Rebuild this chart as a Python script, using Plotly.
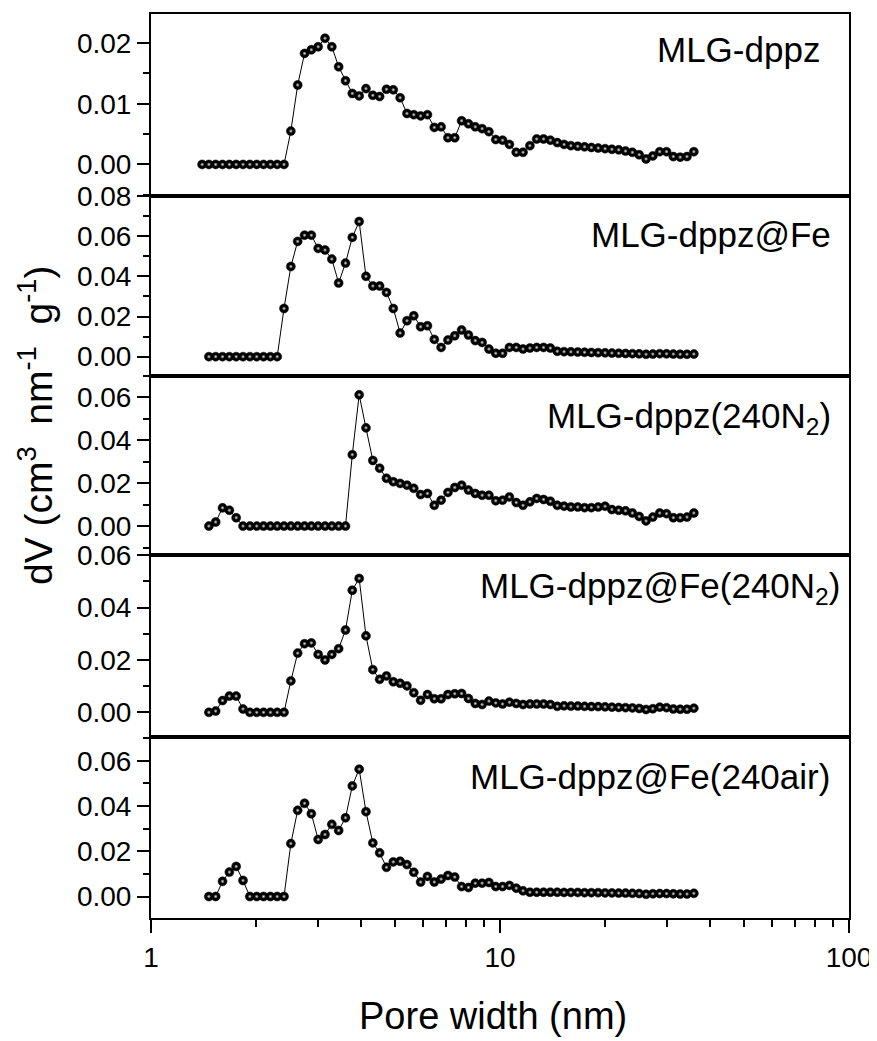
import plotly.graph_objects as go
from plotly.subplots import make_subplots

# Pore width grid (nm)
PORE_WIDTH = [1.401, 1.465, 1.532, 1.603, 1.677, 1.754, 1.835, 1.920, 2.009, 2.101,
              2.198, 2.299, 2.405, 2.516, 2.632, 2.754, 2.880, 3.013, 3.152, 3.297,
              3.449, 3.608, 3.774, 3.949, 4.130, 4.321, 4.520, 4.728, 4.946, 5.174,
              5.413, 5.662, 5.923, 6.196, 6.482, 6.781, 7.093, 7.420, 7.762, 8.120,
              8.494, 8.886, 9.295, 9.723, 10.17, 10.64, 11.13, 11.64, 12.18, 12.74,
              13.33, 13.94, 14.59, 15.26, 15.96, 16.70, 17.47, 18.27, 19.11, 20.00,
              20.92, 21.88, 22.89, 23.95, 25.05, 26.21, 27.41, 28.68, 30.00, 31.38,
              32.83, 34.34, 35.93]

MLG_DPPZ = [0.0, 0.0, 0.0, 0.0, 0.0, 0.0, 0.0, 0.0, 0.0, 0.0, 0.0, 0.0, 0.0,
            0.0055, 0.0131, 0.0183, 0.0189, 0.0194, 0.0208, 0.0194, 0.0161, 0.0138, 0.0117,
            0.0113, 0.0125, 0.0114, 0.0112, 0.0124, 0.0123, 0.0110, 0.0084, 0.0082, 0.0080,
            0.0082, 0.0061, 0.0062, 0.0044, 0.0044, 0.0072, 0.0067, 0.0062, 0.0059, 0.0054,
            0.0041, 0.0040, 0.0033, 0.0020, 0.0020, 0.0031, 0.0042, 0.0042, 0.0040, 0.0036,
            0.0033, 0.0031, 0.0030, 0.0029, 0.0028, 0.0027, 0.0026, 0.0025, 0.0024, 0.0022,
            0.0020, 0.0016, 0.0009, 0.0014, 0.0021, 0.0021, 0.0013, 0.0012, 0.0013, 0.0021]

MLG_DPPZ_FE = [0.0, 0.0, 0.0, 0.0, 0.0, 0.0, 0.0, 0.0, 0.0, 0.0, 0.0,
               0.0240, 0.0449, 0.0574, 0.0605, 0.0605, 0.0539, 0.0531, 0.0486, 0.0367, 0.0466,
               0.0594, 0.0673, 0.0400, 0.0352, 0.0352, 0.0320, 0.0240, 0.0118, 0.0179, 0.0204,
               0.0149, 0.0154, 0.0086, 0.0046, 0.0083, 0.0104, 0.0133, 0.0108, 0.0080, 0.0071,
               0.0038, 0.0017, 0.0017, 0.0046, 0.0046, 0.0038, 0.0043, 0.0046, 0.0046, 0.0043,
               0.0027,
               0.0025, 0.0024, 0.0023, 0.0022, 0.0021, 0.0020, 0.0019, 0.0018, 0.0017, 0.0016,
               0.0015, 0.0014, 0.0012, 0.0013, 0.0015, 0.0014, 0.0013, 0.0012, 0.0012, 0.0013]

MLG_DPPZ_240N2 = [0.0, 0.0019, 0.0085, 0.0074, 0.0039,
                  0.0, 0.0, 0.0, 0.0, 0.0, 0.0, 0.0, 0.0, 0.0, 0.0, 0.0, 0.0, 0.0, 0.0, 0.0, 0.0,
                  0.0333, 0.0612, 0.0458, 0.0306, 0.0270, 0.0223, 0.0207, 0.0199, 0.0191, 0.0176,
                  0.0147, 0.0152, 0.0097, 0.0121, 0.0157, 0.0180, 0.0191, 0.0168, 0.0152, 0.0144,
                  0.0144, 0.0118, 0.0121, 0.0136, 0.0110, 0.0097, 0.0113, 0.0129, 0.0124, 0.0116,
                  0.0097,
                  0.0093, 0.0089, 0.0089, 0.0086, 0.0086, 0.0089, 0.0093, 0.0077, 0.0074, 0.0071,
                  0.0061, 0.0045, 0.0024, 0.0042, 0.0061, 0.0058, 0.0039, 0.0039, 0.0042, 0.0061]

MLG_DPPZ_FE_240N2 = [0.0, 0.0005, 0.0045, 0.0062, 0.0062, 0.0013,
                     0.0, 0.0, 0.0, 0.0, 0.0, 0.0,
                     0.0120, 0.0226, 0.0262, 0.0265, 0.0221, 0.0200, 0.0221, 0.0243, 0.0314, 0.0466,
                     0.0511, 0.0292, 0.0163, 0.0126, 0.0139, 0.0117, 0.0111, 0.0101, 0.0075, 0.0046,
                     0.0068, 0.0052, 0.0052, 0.0068, 0.0071, 0.0072, 0.0053, 0.0034, 0.0030, 0.0043,
                     0.0036, 0.0032, 0.0039, 0.0034, 0.0030, 0.0032, 0.0032, 0.0032, 0.0030, 0.0023,
                     0.0025, 0.0024, 0.0024, 0.0023, 0.0022, 0.0022, 0.0021, 0.0020, 0.0019, 0.0018,
                     0.0017, 0.0015, 0.0011, 0.0014, 0.0020, 0.0018, 0.0013, 0.0012, 0.0012, 0.0016]

MLG_DPPZ_FE_240AIR = [0.0, 0.0, 0.0067, 0.0108, 0.0133, 0.0071,
                      0.0, 0.0, 0.0, 0.0, 0.0, 0.0,
                      0.0234, 0.0381, 0.0412, 0.0366, 0.0252, 0.0274, 0.0319, 0.0292, 0.0348, 0.0489,
                      0.0563, 0.0375, 0.0237, 0.0193, 0.0129, 0.0153, 0.0156, 0.0141, 0.0107, 0.0064,
                      0.0089, 0.0064, 0.0077, 0.0093, 0.0086, 0.0044, 0.0040, 0.0059, 0.0059, 0.0062,
                      0.0044, 0.0044, 0.0049, 0.0037, 0.0025, 0.0019, 0.0019, 0.0019, 0.0019, 0.0019,
                      0.0018, 0.0018, 0.0018, 0.0017, 0.0017, 0.0017, 0.0016, 0.0016, 0.0015, 0.0015,
                      0.0014, 0.0013, 0.0010, 0.0012, 0.0013, 0.0013, 0.0012, 0.0011, 0.0011, 0.0014]

LABELS = ["MLG-dppz", "MLG-dppz@Fe", "MLG-dppz(240N<sub>2</sub>)",
          "MLG-dppz@Fe(240N<sub>2</sub>)", "MLG-dppz@Fe(240air)"]

SERIES = [
    (PORE_WIDTH, MLG_DPPZ),
    (PORE_WIDTH[1:], MLG_DPPZ_FE),
    (PORE_WIDTH[1:], MLG_DPPZ_240N2),
    (PORE_WIDTH[1:], MLG_DPPZ_FE_240N2),
    (PORE_WIDTH[1:], MLG_DPPZ_FE_240AIR),
]

Y_RANGES = [[-0.0052, 0.0248], [-0.0096, 0.08001], [-0.0135, 0.0700],
            [-0.0094, 0.06001], [-0.0095, 0.0705]]
Y_DTICK = [0.01, 0.02, 0.02, 0.02, 0.02]
Y_DOMAINS = [[0.7987, 1.0], [0.5996, 0.7987], [0.4015, 0.5996], [0.2002, 0.4015], [0.0, 0.2002]]
LABEL_X = [0.961, 0.977, 0.977, 0.990, 0.976]
LABEL_Y_PX = [50, 235, 418, 588, 776]   # screen px (page coords)

FONT = "Arial, 'Liberation Sans', sans-serif"

# The page body adds an 8 px offset; compensate so the plot lands at the same screen spot
BODY = 8
PLOT_LEFT, PLOT_RIGHT, PLOT_TOP, PLOT_BOTTOM = 151, 849, 14, 918
W = PLOT_RIGHT - PLOT_LEFT
H = PLOT_BOTTOM - PLOT_TOP

fig = make_subplots(rows=5, cols=1, shared_xaxes=True, vertical_spacing=0)

for k, (xs, ys) in enumerate(SERIES):
    fig.add_trace(go.Scatter(
        x=xs, y=ys, mode="lines+markers",
        line=dict(color="black", width=1),
        marker=dict(size=9, color="black", line=dict(color="black", width=0.5)),
        showlegend=False, hoverinfo="skip"), row=k + 1, col=1)
    fig.add_trace(go.Scatter(
        x=xs, y=ys, mode="markers",
        marker=dict(size=4, color="#151515",
                    gradient=dict(type="radial", color="#e6e6e6"),
                    line=dict(width=0)),
        showlegend=False), row=k + 1, col=1)

for k in range(5):
    r = k + 1
    fig.update_yaxes(
        row=r, col=1, range=Y_RANGES[k], domain=Y_DOMAINS[k], automargin=False,
        dtick=Y_DTICK[k], tick0=0, tickformat=".2f",
        ticks="outside", ticklen=12, tickwidth=2, tickcolor="black",
        minor=dict(ticks="outside", ticklen=6, tickwidth=2, tickcolor="black",
                   dtick=Y_DTICK[k] / 2, tick0=0),
        showline=True, linewidth=2, linecolor="black", mirror=True,
        showgrid=False, zeroline=False,
        tickfont=dict(family=FONT, size=28, color="black"))
    last = (r == 5)
    fig.update_xaxes(
        row=r, col=1, type="log", range=[0, 2], automargin=False,
        showline=True, linewidth=2, linecolor="black", mirror=True,
        showgrid=False, zeroline=False,
        ticks="outside" if last else "", ticklen=13, tickwidth=2, tickcolor="black",
        dtick=1, showticklabels=last,
        minor=dict(ticks="outside" if last else "", ticklen=7, tickwidth=2,
                   tickcolor="black", dtick="D1"),
        tickfont=dict(family=FONT, size=28, color="black"))

annotations = []
for k in range(5):
    annotations.append(dict(
        text=LABELS[k], xref="paper", yref="paper",
        x=LABEL_X[k], y=(PLOT_BOTTOM - LABEL_Y_PX[k]) / H,
        xanchor="right", yanchor="middle", showarrow=False,
        font=dict(family=FONT, size=35, color="black")))

annotations.append(dict(
    text="Pore width (nm)", xref="paper", yref="paper",
    x=(493 - PLOT_LEFT) / W, y=(PLOT_BOTTOM - 1016) / H,
    xanchor="center", yanchor="middle", showarrow=False,
    font=dict(family=FONT, size=38, color="black")))

annotations.append(dict(
    text="dV (cm<sup>3</sup>&nbsp; nm<sup>-1</sup>&nbsp; g<sup>-1</sup>)",
    xref="paper", yref="paper",
    x=(35 - PLOT_LEFT) / W, y=(PLOT_BOTTOM - 425) / H, textangle=-90,
    xanchor="center", yanchor="middle", showarrow=False,
    font=dict(family=FONT, size=39, color="black")))

fig.update_layout(
    width=877 - BODY, height=1041 - BODY,
    margin=dict(l=PLOT_LEFT - BODY, r=877 - PLOT_RIGHT, t=PLOT_TOP - BODY,
                b=1041 - PLOT_BOTTOM, autoexpand=False),
    paper_bgcolor="white", plot_bgcolor="white",
    annotations=annotations,
    showlegend=False)

fig.write_html("out.html")
